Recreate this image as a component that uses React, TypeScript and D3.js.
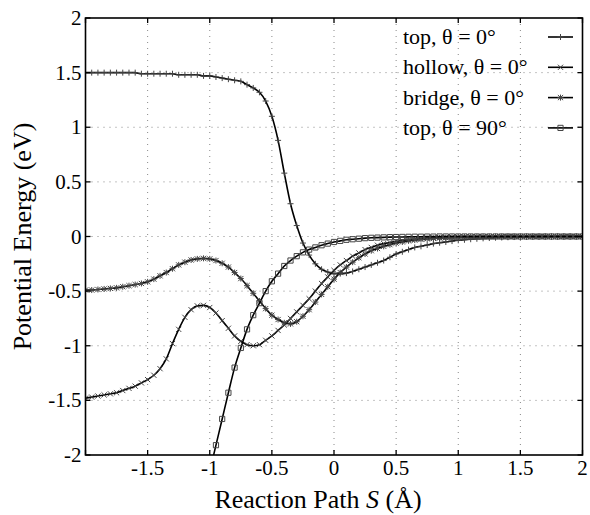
import React from 'react';
import * as d3 from 'd3';

// Reaction path coordinate S (Å)
const X = [
  -2.0, -1.95, -1.9, -1.85, -1.8, -1.75, -1.7, -1.65, -1.6, -1.55,
  -1.5, -1.45, -1.4, -1.35, -1.3, -1.25, -1.2, -1.15, -1.1, -1.05,
  -1.0, -0.95, -0.9, -0.85, -0.8, -0.75, -0.7, -0.65, -0.6, -0.55,
  -0.5, -0.45, -0.4, -0.35, -0.3, -0.25, -0.2, -0.15, -0.1, -0.05,
  0.0, 0.05, 0.1, 0.15, 0.2, 0.25, 0.3, 0.35, 0.4, 0.45,
  0.5, 0.55, 0.6, 0.65, 0.7, 0.75, 0.8, 0.85, 0.9, 0.95,
  1.0, 1.05, 1.1, 1.15, 1.2, 1.25, 1.3, 1.35, 1.4, 1.45,
  1.5, 1.55, 1.6, 1.65, 1.7, 1.75, 1.8, 1.85, 1.9, 1.95, 2.0,
];

// top, θ = 0°
const TOP_0 = [
  1.5, 1.5, 1.5, 1.5, 1.5, 1.5, 1.5, 1.5, 1.5, 1.49,
  1.49, 1.49, 1.49, 1.49, 1.49, 1.48, 1.48, 1.48, 1.48, 1.47,
  1.47, 1.46, 1.45, 1.44, 1.43, 1.42, 1.39, 1.36, 1.32, 1.24,
  1.1, 0.88, 0.58, 0.3, 0.1, -0.06, -0.17, -0.25, -0.3, -0.325,
  -0.34, -0.34, -0.335, -0.32, -0.3, -0.28, -0.26, -0.24, -0.22, -0.19,
  -0.16, -0.14, -0.12, -0.1, -0.09, -0.078, -0.065, -0.057, -0.05, -0.042,
  -0.035, -0.03, -0.025, -0.021, -0.017, -0.014, -0.011, -0.009, -0.007, -0.005,
  -0.004, -0.003, -0.002, -0.002, -0.001, -0.001, 0, 0, 0, 0, 0,
];

// hollow, θ = 0°
const HOLLOW_0 = [
  -1.48, -1.47, -1.46, -1.45, -1.44, -1.43, -1.41, -1.39, -1.37, -1.34,
  -1.31, -1.27, -1.21, -1.12, -0.98, -0.85, -0.74, -0.67, -0.635, -0.63,
  -0.65, -0.7, -0.77, -0.84, -0.91, -0.96, -0.99, -1.0, -0.99, -0.95,
  -0.91, -0.86, -0.81, -0.75, -0.69, -0.63, -0.57, -0.5, -0.43, -0.37,
  -0.31, -0.26, -0.22, -0.18, -0.15, -0.12, -0.1, -0.08, -0.065, -0.055,
  -0.045, -0.037, -0.03, -0.025, -0.02, -0.016, -0.013, -0.01, -0.008, -0.006,
  -0.005, -0.004, -0.003, -0.002, -0.002, -0.001, -0.001, 0, 0, 0,
  0, 0, 0, 0, 0, 0, 0, 0, 0, 0, 0,
];

// bridge, θ = 0°
const BRIDGE_0 = [
  -0.49, -0.49, -0.485, -0.48, -0.475, -0.47, -0.46, -0.45, -0.44, -0.43,
  -0.415, -0.39, -0.36, -0.33, -0.295, -0.26, -0.235, -0.215, -0.205, -0.2,
  -0.205, -0.22, -0.245, -0.28, -0.33, -0.385, -0.45, -0.52, -0.59, -0.66,
  -0.72, -0.76, -0.79, -0.8, -0.78, -0.73, -0.67, -0.6, -0.53, -0.46,
  -0.39, -0.33, -0.28, -0.235, -0.195, -0.16, -0.13, -0.11, -0.09, -0.075,
  -0.06, -0.05, -0.04, -0.033, -0.027, -0.022, -0.018, -0.014, -0.011, -0.009,
  -0.007, -0.005, -0.004, -0.003, -0.002, -0.002, -0.001, -0.001, 0, 0,
  0, 0, 0, 0, 0, 0, 0, 0, 0, 0, 0,
];

// top, θ = 90° (starts below the frame)
const X_TOP_90 = [
  -1.0, -0.95, -0.9, -0.85, -0.8, -0.75, -0.7, -0.65, -0.6, -0.55,
  -0.5, -0.45, -0.4, -0.35, -0.3, -0.25, -0.2, -0.15, -0.1, -0.05,
  0.0, 0.05, 0.1, 0.15, 0.2, 0.25, 0.3, 0.35, 0.4, 0.45,
  0.5, 0.55, 0.6, 0.65, 0.7, 0.75, 0.8, 0.85, 0.9, 0.95,
  1.0, 1.05, 1.1, 1.15, 1.2, 1.25, 1.3, 1.35, 1.4, 1.45,
  1.5, 1.55, 1.6, 1.65, 1.7, 1.75, 1.8, 1.85, 1.9, 1.95, 2.0,
];
const TOP_90 = [
  -2.15, -1.91, -1.67, -1.43, -1.2, -1.02, -0.85, -0.72, -0.61, -0.5,
  -0.41, -0.34, -0.27, -0.22, -0.18, -0.145, -0.12, -0.1, -0.08, -0.065,
  -0.05, -0.04, -0.03, -0.025, -0.02, -0.015, -0.012, -0.01, -0.008, -0.006,
  -0.005, -0.004, -0.003, -0.002, -0.002, -0.001, -0.001, 0, 0, 0,
  0, 0, 0, 0, 0, 0, 0, 0, 0, 0,
  0, 0, 0, 0, 0, 0, 0, 0, 0, 0, 0,
];

const LEGEND_LABELS = ['top, θ = 0°', 'hollow, θ = 0°', 'bridge, θ = 0°', 'top, θ = 90°'];
const MARKERS = ['plus', 'cross', 'star', 'square'];
const X_TICKS = [-2, -1.5, -1, -0.5, 0, 0.5, 1, 1.5, 2];
const X_TICK_LABELS = ['', '-1.5', '-1', '-0.5', '0', '0.5', '1', '1.5', '2'];
const Y_TICKS = [-2, -1.5, -1, -0.5, 0, 0.5, 1, 1.5, 2];
const Y_TICK_LABELS = ['-2', '-1.5', '-1', '-0.5', '0', '0.5', '1', '1.5', '2'];

const W = 590;
const H = 515;
const L = 85.5;
const R = 582.5;
const T = 18;
const B = 455;
const FONT = 'Liberation Serif';

function markerPath(type: string, x: number, y: number): string {
  const s = 3;
  const c = 2.6;
  const plus = `M${x - s},${y}H${x + s}M${x},${y - s}V${y + s}`;
  const cross = `M${x - c},${y - c}L${x + c},${y + c}M${x - c},${y + c}L${x + c},${y - c}`;
  if (type === 'plus') return plus;
  if (type === 'cross') return cross;
  if (type === 'star') return plus + cross;
  const q = 2.6;
  return `M${x - q},${y - q}H${x + q}V${y + q}H${x - q}Z`;
}

export default function App() {
  const xs = d3.scaleLinear().domain([-2, 2]).range([L, R]);
  const ys = d3.scaleLinear().domain([-2, 2]).range([B, T]);

  const series = [
    { xv: X, yv: TOP_0, marker: MARKERS[0] },
    { xv: X, yv: HOLLOW_0, marker: MARKERS[1] },
    { xv: X, yv: BRIDGE_0, marker: MARKERS[2] },
    { xv: X_TOP_90, yv: TOP_90, marker: MARKERS[3] },
  ];

  const line = d3
    .line<[number, number]>()
    .x((d) => xs(d[0]))
    .y((d) => ys(d[1]))
    .curve(d3.curveMonotoneX);

  return (
    <svg width={W} height={H} style={{ position: 'absolute', left: 0, top: 0, background: '#fff' }}>
      <defs>
        <clipPath id="plotclip">
          <rect x={L} y={T} width={R - L} height={B - T} />
        </clipPath>
      </defs>
      <rect x={0} y={0} width={W} height={H} fill="#fff" />

      {/* grid */}
      <g stroke="#888" strokeWidth={1} strokeDasharray="1,5">
        {X_TICKS.slice(1, -1).map((t) => (
          <line key={'gx' + t} x1={xs(t)} x2={xs(t)} y1={T} y2={B} />
        ))}
        {Y_TICKS.slice(1, -1).map((t) => (
          <line key={'gy' + t} x1={L} x2={R} y1={ys(t)} y2={ys(t)} />
        ))}
      </g>

      {/* series */}
      <g clipPath="url(#plotclip)">
        {series.map((s, i) => {
          const pts: [number, number][] = s.xv.map((x, j) => [x, s.yv[j]]);
          return (
            <g key={'s' + i}>
              <path d={line(pts) || ''} fill="none" stroke="#000" strokeWidth={1.6} />
              <path
                d={pts
                  .filter((p) => p[1] >= -2 && p[1] <= 2)
                  .map((p) => markerPath(s.marker, xs(p[0]), ys(p[1])))
                  .join('')}
                fill="none"
                stroke="#444"
                strokeWidth={1}
              />
            </g>
          );
        })}
      </g>

      {/* ticks */}
      <g stroke="#000" strokeWidth={1.3}>
        {X_TICKS.map((t) => (
          <g key={'tx' + t}>
            <line x1={xs(t)} x2={xs(t)} y1={B} y2={B - 5} />
            <line x1={xs(t)} x2={xs(t)} y1={T} y2={T + 5} />
          </g>
        ))}
        {Y_TICKS.map((t) => (
          <g key={'ty' + t}>
            <line x1={L} x2={L + 5} y1={ys(t)} y2={ys(t)} />
            <line x1={R} x2={R - 5} y1={ys(t)} y2={ys(t)} />
          </g>
        ))}
      </g>

      {/* frame */}
      <rect x={L} y={T} width={R - L} height={B - T} fill="none" stroke="#000" strokeWidth={1.6} />

      {/* tick labels */}
      {X_TICKS.map((t, i) => (
        <text key={'lx' + t} x={xs(t)} y={B + 20} textAnchor="middle" fontFamily={FONT} fontSize={21} fill="#000">
          {X_TICK_LABELS[i]}
        </text>
      ))}
      {Y_TICKS.map((t, i) => (
        <text key={'ly' + t} x={L - 4} y={ys(t) + 7} textAnchor="end" fontFamily={FONT} fontSize={21} fill="#000">
          {Y_TICK_LABELS[i]}
        </text>
      ))}

      {/* axis titles */}
      <text x={318} y={508} textAnchor="middle" fontFamily={FONT} fontSize={26} fill="#000">
        Reaction Path <tspan fontStyle="italic">S</tspan> (Å)
      </text>
      <text
        transform={`translate(31, ${(T + B) / 2}) rotate(-90)`}
        textAnchor="middle"
        fontFamily={FONT}
        fontSize={26}
        fill="#000"
      >
        Potential Energy (eV)
      </text>

      {/* legend */}
      {LEGEND_LABELS.map((lab, i) => {
        const cy = 37 + i * 30.3;
        return (
          <g key={'lg' + i}>
            <text x={403} y={cy + 7} fontFamily={FONT} fontSize={22} fill="#000">
              {lab}
            </text>
            <line x1={548} x2={573} y1={cy} y2={cy} stroke="#000" strokeWidth={1.6} />
            <path d={markerPath(MARKERS[i], 560.5, cy)} fill="none" stroke="#444" strokeWidth={1} />
          </g>
        );
      })}
    </svg>
  );
}
